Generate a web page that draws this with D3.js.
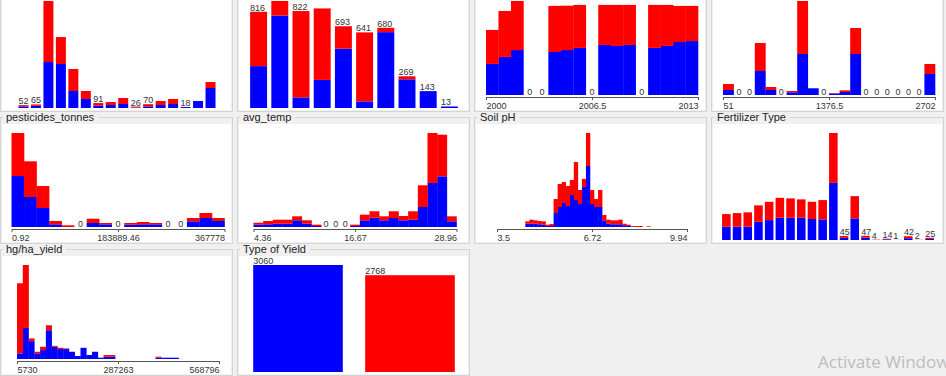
<!DOCTYPE html>
<html>
<head>
<meta charset="utf-8">
<script src="https://cdn.jsdelivr.net/npm/d3@7"></script>
<style>
    body { margin: 0; background: #f0f0f0; overflow: hidden; }
    svg { display: block; font-family: "Liberation Sans", Arial, sans-serif; }
</style>
</head>
<body>
<div id="chart"></div>
<script>
/*
    WEKA "VISUALIZE ALL" - class colouring: blue = first class, red = second class
*/

// nominal attributes (counts per value)
const areaBlue = [30, 40, 846, 810, 313, 166, 45, 55, 74, 8, 30, 55, 74, 18, 129, 368]
const areaRed = [22, 25, 1124, 496, 405, 147, 46, 55, 110, 18, 40, 74, 92, 0, 0, 110]

const itemBlue = [355, 783, 90, 238, 503, 56, 643, 243, 143, 13]
const itemRed = [461, 124, 732, 606, 190, 585, 37, 26, 0, 0]

const fertBlue = [148, 148, 148, 203, 222, 248, 248, 248, 234, 230, 637, 25, 241, 25, 2, 8, 1, 20, 0, 12]
const fertRed = [141, 152, 160, 183, 204, 222, 216, 205, 192, 215, 556, 20, 248, 22, 2, 6, 0, 22, 2, 13]

const yieldTypeBlue = [3060, 0]
const yieldTypeRed = [0, 2768]

// numeric attributes (counts per histogram bin)
const yearBlue = [159, 195, 230, 0, 0, 220, 230, 241, 0, 256, 251, 256, 0, 241, 251, 271, 276]
const yearRed = [174, 235, 251, 0, 0, 236, 227, 220, 0, 205, 210, 205, 0, 220, 210, 185, 180]
const yearTicks = ["2000", "2006.5", "2013"]

const rainBlue = [104, 0, 0, 497, 104, 0, 56, 849, 139, 0, 31, 62, 849, 0, 0, 0, 0, 0, 0, 435]
const rainRed = [124, 0, 0, 579, 62, 0, 27, 1097, 0, 0, 10, 35, 538, 0, 0, 0, 0, 0, 0, 207]
const rainTicks = ["51", "1376.5", "2702"]

const pestBlue = [1118, 658, 417, 59, 0, 0, 88, 59, 0, 50, 59, 59, 0, 0, 125, 197, 132]
const pestRed = [944, 783, 482, 73, 37, 0, 94, 29, 0, 38, 51, 29, 0, 0, 72, 110, 65]
const pestTicks = ["0.92", "183889.46", "367778"]

const tempBlue = [37, 43, 52, 52, 107, 52, 16, 0, 0, 0, 16, 107, 148, 107, 143, 107, 116, 318, 700, 806, 91]
const tempRed = [31, 52, 64, 64, 63, 55, 21, 0, 0, 0, 21, 89, 102, 63, 107, 68, 134, 345, 795, 662, 79]
const tempTicks = ["4.36", "16.67", "28.96"]

const phBlue = [0, 0, 0, 0, 0, 0, 0, 30, 30, 30, 25, 21, 9, 9, 128, 183, 220, 192, 293, 247, 211, 366, 559, 211, 183, 183,
    61, 30, 25, 25, 25, 16, 9, 6, 0, 0, 0, 0, 0, 0, 0, 0, 0, 0, 0, 0, 0]
const phRed = [0, 0, 0, 0, 0, 0, 0, 22, 37, 31, 30, 31, 12, 18, 128, 211, 192, 184, 138, 348, 128, 74, 302, 128, 73, 156,
    49, 37, 36, 36, 42, 14, 12, 3, 9, 9, 0, 6, 0, 0, 0, 0, 0, 0, 0, 0, 0]
const phTicks = ["3.5", "6.72", "9.94"]

const hgBlue = [101, 554, 319, 101, 159, 513, 218, 177, 177, 129, 53, 200, 71, 129, 23, 41, 41,
    0, 0, 0, 0, 0, 0, 0, 23, 23, 23, 23, 0, 0, 0, 0, 0, 0, 0]
const hgRed = [1250, 1123, 47, 28, 59, 89, 17, 23, 12, 0, 0, 0, 0, 0, 0, 30, 30,
    0, 0, 0, 0, 0, 0, 0, 18, 0, 0, 0, 0, 0, 0, 0, 0, 0, 0]
const hgTicks = ["5730", "287263", "568796"]

// panel table (grid position + plot width in px); top row titles are scrolled out of view
const panels = [
    { name: "", kind: "nominal", blue: areaBlue, red: areaRed, col: 0, row: 0, span: 199.5 },
    { name: "", kind: "nominal", blue: itemBlue, red: itemRed, col: 1, row: 0, span: 212 },
    { name: "", kind: "numeric", blue: yearBlue, red: yearRed, ticks: yearTicks, col: 2, row: 0, span: 212 },
    { name: "", kind: "numeric", blue: rainBlue, red: rainRed, ticks: rainTicks, col: 3, row: 0, span: 212 },
    { name: "pesticides_tonnes", kind: "numeric", blue: pestBlue, red: pestRed, ticks: pestTicks, col: 0, row: 1, span: 213 },
    { name: "avg_temp", kind: "numeric", blue: tempBlue, red: tempRed, ticks: tempTicks, col: 1, row: 1, span: 203 },
    { name: "Soil pH", kind: "numeric", blue: phBlue, red: phRed, ticks: phTicks, col: 2, row: 1, span: 190 },
    { name: "Fertilizer Type", kind: "nominal", blue: fertBlue, red: fertRed, col: 3, row: 1, span: 214 },
    { name: "hg/ha_yield", kind: "numeric", blue: hgBlue, red: hgRed, ticks: hgTicks, col: 0, row: 2, span: 202 },
    { name: "Type of Yield", kind: "nominal", blue: yieldTypeBlue, red: yieldTypeRed, col: 1, row: 2, span: 224 },
]

const width = 946, height = 376
const colW = 237, rowH = 132, rowTop = -19
const colors = { blue: "#0000ff", red: "#ff0000" }
const labelSize = 9

const svg = d3.select("#chart").append("svg")
    .attr("width", width)
    .attr("height", height)

panels.forEach((p) => {
    const oy = rowTop + p.row * rowH
    const g = svg.append("g")
        .attr("transform", `translate(${p.col * colW},${oy})`)

    // titled border + white plot area
    g.append("rect")
        .attr("x", 0.5).attr("y", 4.5)
        .attr("width", 232).attr("height", 126)
        .attr("fill", "none").attr("stroke", "#d4d4d4")
    g.append("rect")
        .attr("x", 2).attr("y", 11)
        .attr("width", 229).attr("height", 118)
        .attr("fill", "#fff")
    if (p.name) {
        const mask = g.append("rect").attr("fill", "#f0f0f0")
        const title = g.append("text")
            .attr("x", 6).attr("y", 7.5)
            .style("font-size", "11px")
            .attr("fill", "#222")
            .text(p.name)
        const tw = title.node().getComputedTextLength()
        mask.attr("x", 3).attr("y", 0).attr("width", tw + 7).attr("height", 10)
    }

    const rows = p.blue.map((b, i) => ({ i: i, blue: b, red: p.red[i], total: b + p.red[i] }))
    const series = d3.stack().keys(["blue", "red"])(rows)
    const cx = 117
    const base = p.kind === "nominal" ? 127 : 114
    const y = d3.scaleLinear()
        .domain([0, d3.max(rows, d => d.total)])
        .range([base, 20])

    if (p.kind === "nominal") {
        const x = d3.scaleBand()
            .domain(rows.map(d => d.i))
            .range([cx - p.span / 2, cx + p.span / 2])
            .paddingInner(0.2)
            .paddingOuter(0.1)

        g.selectAll(null)
            .data(series)
            .join("g")
            .attr("fill", d => colors[d.key])
            .selectAll("rect")
            .data(d => d)
            .join("rect")
            .attr("x", d => x(d.data.i))
            .attr("y", d => y(d[1]))
            .attr("width", x.bandwidth())
            .attr("height", d => y(d[0]) - y(d[1]))

        // count above the bar when it fits in the slot (and is inside the window)
        g.selectAll(null)
            .data(rows.filter(d => String(d.total).length * 0.556 * labelSize < x.step()
                && oy + y(d.total) - 1 > 8))
            .join("text")
            .attr("x", d => x(d.i))
            .attr("y", d => y(d.total) - 1)
            .style("font-size", labelSize + "px")
            .attr("fill", "#333")
            .text(d => d.total)
    } else {
        const n = rows.length
        const x = d3.scaleLinear()
            .domain([0, n])
            .range([cx - p.span / 2 + 1, cx + p.span / 2 + 1])
        const bw = x(1) - x(0)

        g.selectAll(null)
            .data(series)
            .join("g")
            .attr("fill", d => colors[d.key])
            .selectAll("rect")
            .data(d => d)
            .join("rect")
            .attr("x", d => x(d.data.i))
            .attr("y", d => y(d[1]))
            .attr("width", bw + 0.3)
            .attr("height", d => y(d[0]) - y(d[1]))

        // empty bins get a "0" when it fits
        if (bw > 6) {
            g.selectAll(null)
                .data(rows.filter(d => d.total === 0))
                .join("text")
                .attr("x", d => x(d.i + 0.5))
                .attr("y", base)
                .attr("text-anchor", "middle")
                .style("font-size", labelSize + "px")
                .attr("fill", "#333")
                .text("0")
        }

        g.append("g")
            .attr("transform", `translate(0,${base + 2})`)
            .call(d3.axisBottom(x).tickValues([0, n / 2, n]).tickSize(3).tickSizeOuter(0)
                .tickFormat((d, i) => p.ticks[i]))
            .call(a => a.select(".domain").attr("stroke", "#555"))
            .call(a => a.selectAll(".tick line").attr("stroke", "#555"))
            .call(a => a.selectAll(".tick text")
                .attr("fill", "#333")
                .style("font-size", "9px")
                .style("font-family", "Liberation Sans, Arial, sans-serif")
                .attr("text-anchor", (d, i) => i === 0 ? "start" : (i === 2 ? "end" : "middle")))
    }
})

// windows watermark from the screenshot (runs off the right and bottom edges there too)
svg.append("text")
    .attr("x", 818).attr("y", 368)
    .style("font-family", "Open Sans, sans-serif")
    .style("font-size", "17px")
    .attr("fill", "#bdbdbd")
    .text("Activate Windows")
svg.append("text")
    .attr("x", 818).attr("y", 385)
    .style("font-family", "Open Sans, sans-serif")
    .style("font-size", "13px")
    .attr("fill", "#bdbdbd")
    .text("Go to Settings to activate Windows.")
</script>
</body>
</html>
